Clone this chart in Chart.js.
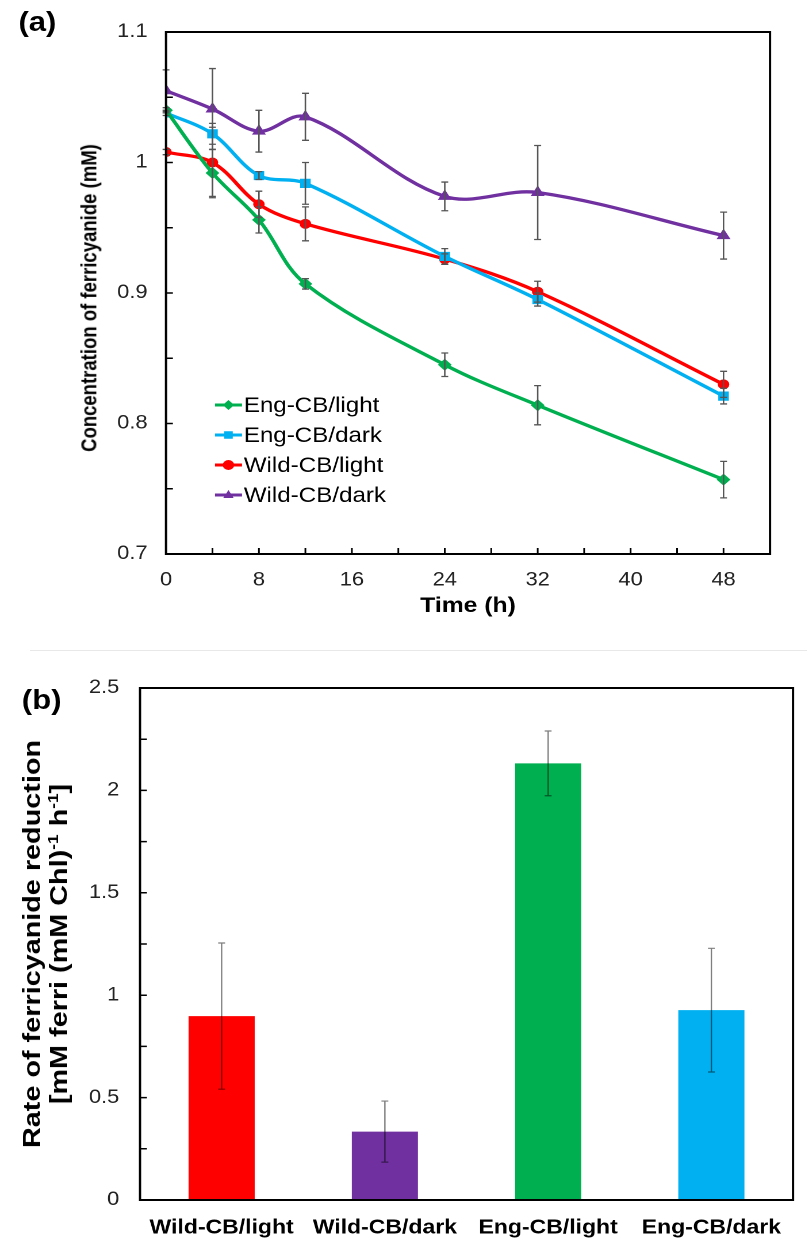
<!DOCTYPE html>
<html>
<head>
<meta charset="utf-8">
<script src="https://cdn.jsdelivr.net/npm/chart.js@4.4.1/dist/chart.umd.min.js"></script>
<style>
  html, body { margin: 0; padding: 0; background: #fff; }
  body { width: 807px; height: 1245px; position: relative; overflow: hidden; font-family: "Liberation Sans", Arial, sans-serif; }
  .panel { position: absolute; left: 0; transform-origin: 0 0; }
  .panel canvas { position: absolute; left: 0; top: 0; }
  .tag { position: absolute; font-weight: bold; font-size: 27px; line-height: 27px; color: #000; }
  .ytitle { position: absolute; font-weight: bold; color: #000; white-space: nowrap; text-align: center; }
  .ytitle sup { font-size: 0.6em; line-height: 0; vertical-align: 0.6em; }
  #rule { position: absolute; left: 30px; top: 650px; width: 777px; height: 1px; background: #e8e8e8; }
</style>
</head>
<body>
<div id="rule"></div>
<div class="panel" id="panelA" style="top:0">
  <canvas id="chartA"></canvas>
  <div class="tag" style="left:16px;top:9px">(a)</div>
</div>
<div class="panel" id="panelB" style="top:650px">
  <canvas id="chartB"></canvas>
  <div class="tag" style="left:19px;top:37px">(b)</div>
</div>
<div class="ytitle" style="left:89px;top:298px;font-size:19.5px;line-height:23px;transform:translate(-50%,-50%) rotate(-90deg) scale(0.95,1.1)">Concentration of ferricyanide (mM)</div>
<div class="ytitle" style="left:45px;top:944px;font-size:24px;line-height:27px;transform:translate(-50%,-50%) rotate(-90deg) scale(1.2,1)">Rate of ferricyanide reduction<br>[mM ferri (mM Chl)<sup>-1</sup> h<sup>-1</sup>]</div>
<script>
// time course, ferricyanide concentration (mM)
const hours = [0, 4, 8, 12, 24, 32, 48];
const engLight = [1.040, 0.992, 0.956, 0.907, 0.845, 0.814, 0.757];
const engLightErr = [0.002, 0.018, 0.010, 0.004, 0.009, 0.015, 0.014];
const engDark = [1.038, 1.022, 0.990, 0.984, 0.928, 0.895, 0.821];
const engDarkErr = [0.002, 0.008, 0.003, 0.016, 0.006, 0.005, 0.006];
const wildLight = [1.008, 1.000, 0.968, 0.953, 0.926, 0.901, 0.830];
const wildLightErr = [0.002, 0.027, 0.010, 0.013, 0.004, 0.008, 0.010];
const wildDark = [1.055, 1.041, 1.024, 1.035, 0.974, 0.977, 0.944];
const wildDarkErr = [0.016, 0.031, 0.016, 0.018, 0.011, 0.036, 0.018];

// reduction rates
const strains = ['Wild-CB/light', 'Wild-CB/dark', 'Eng-CB/light', 'Eng-CB/dark'];
const rates = [0.898, 0.334, 2.132, 0.927];
const rateErr = [0.357, 0.149, 0.158, 0.302];

// axis ranges
const concTicks = [0.7, 0.8, 0.9, 1.0, 1.1];
const hourLabels = [0, 8, 16, 24, 32, 40, 48];
const rateTicks = [0, 0.5, 1, 1.5, 2, 2.5];

const SX = 1.15;                 // figure is drawn a bit wide
const W = Math.round(807 / SX);
const FONT = '"Liberation Sans", Arial, sans-serif';
Chart.defaults.font.family = FONT;
Chart.defaults.color = '#222';

function setupPanel(panelId, canvasId, h) {
  const p = document.getElementById(panelId), c = document.getElementById(canvasId);
  p.style.width = W + 'px'; p.style.height = h + 'px';
  p.style.transform = `scaleX(${SX})`;
  c.width = W; c.height = h;
  c.style.width = W + 'px'; c.style.height = h + 'px';
  return c;
}

function between(lo, hi, step) {
  const out = [];
  for (let v = lo + step; v < hi - step / 2; v += step) out.push(+v.toFixed(3));
  return out;
}

// box around plot + small inward ticks
const frameTicks = {
  id: 'frameTicks',
  afterDraw(chart, args, opts) {
    const { ctx, chartArea: a } = chart;
    ctx.save();
    ctx.strokeStyle = '#000';
    ctx.lineWidth = 1.5;
    ctx.beginPath();
    (opts.y || []).forEach(v => {
      const y = chart.scales.y.getPixelForValue(v);
      ctx.moveTo(a.left, y); ctx.lineTo(a.left + 6, y);
    });
    (opts.x || []).forEach(v => {
      const x = chart.scales.x.getPixelForValue(v);
      ctx.moveTo(x, a.bottom); ctx.lineTo(x, a.bottom - 6);
    });
    ctx.stroke();
    ctx.lineWidth = 2;
    ctx.strokeRect(a.left, a.top, a.right - a.left, a.bottom - a.top);
    ctx.restore();
  }
};

// vertical error bars for every dataset
const errorBars = {
  id: 'errorBars',
  afterDatasetsDraw(chart, args, opts) {
    const { ctx } = chart, ys = chart.scales.y;
    ctx.save();
    ctx.strokeStyle = opts.color;
    ctx.lineWidth = opts.width;
    chart.data.datasets.forEach((ds, i) => {
      const meta = chart.getDatasetMeta(i);
      ds.errors.forEach((e, j) => {
        const el = meta.data[j];
        const v = typeof ds.data[j] === 'object' ? ds.data[j].y : ds.data[j];
        const x = el.x, y1 = ys.getPixelForValue(v + e), y2 = ys.getPixelForValue(v - e);
        ctx.beginPath();
        ctx.moveTo(x, y1); ctx.lineTo(x, y2);
        ctx.moveTo(x - opts.cap, y1); ctx.lineTo(x + opts.cap, y1);
        ctx.moveTo(x - opts.cap, y2); ctx.lineTo(x + opts.cap, y2);
        ctx.stroke();
      });
    });
    ctx.restore();
  }
};

function drawMarker(ctx, style, x, y, r) {
  ctx.beginPath();
  if (style === 'circle') ctx.arc(x, y, r, 0, Math.PI * 2);
  else if (style === 'rect') ctx.rect(x - r * 0.75, y - r * 0.75, r * 1.5, r * 1.5);
  else if (style === 'rectRot') { ctx.moveTo(x, y - r); ctx.lineTo(x + r, y); ctx.lineTo(x, y + r); ctx.lineTo(x - r, y); }
  else { ctx.moveTo(x, y - r); ctx.lineTo(x + r * 0.9, y + r * 0.6); ctx.lineTo(x - r * 0.9, y + r * 0.6); }
  ctx.closePath();
  ctx.fill();
}

// legend sitting inside the plot, lower left
const insideLegend = {
  id: 'insideLegend',
  afterDraw(chart) {
    const { ctx, chartArea: a } = chart;
    const x0 = a.left + 42.6, y0 = 405, gap = 30;
    ctx.save();
    ctx.font = '21px ' + FONT;
    ctx.textBaseline = 'middle';
    chart.data.datasets.forEach((ds, i) => {
      const y = y0 + i * gap;
      ctx.strokeStyle = ds.borderColor;
      ctx.fillStyle = ds.borderColor;
      ctx.lineWidth = 3;
      ctx.beginPath(); ctx.moveTo(x0, y); ctx.lineTo(x0 + 23.5, y); ctx.stroke();
      drawMarker(ctx, ds.pointStyle, x0 + 11.7, y, 5);
      ctx.fillStyle = '#000';
      ctx.fillText(ds.label, x0 + 25, y + 1);
    });
    ctx.restore();
  }
};

function fixWidth(w) { return s => { s.width = w; }; }
function fixHeight(h) { return s => { s.height = h; }; }

// ---- (a) time course ----
const canvasA = setupPanel('panelA', 'chartA', 650);
const lineSeries = [
  { label: 'Eng-CB/light', values: engLight, err: engLightErr, color: '#00B050', style: 'rectRot', r: 6 },
  { label: 'Eng-CB/dark', values: engDark, err: engDarkErr, color: '#00B0F0', style: 'rect', r: 6.5 },
  { label: 'Wild-CB/light', values: wildLight, err: wildLightErr, color: '#FF0000', style: 'circle', r: 5 },
  { label: 'Wild-CB/dark', values: wildDark, err: wildDarkErr, color: '#7030A0', style: 'triangle', r: 7 }
];

new Chart(canvasA, {
  type: 'line',
  data: {
    datasets: lineSeries.map(s => ({
      label: s.label,
      data: hours.map((h, i) => ({ x: h, y: s.values[i] })),
      errors: s.err,
      borderColor: s.color,
      backgroundColor: s.color,
      pointBackgroundColor: s.color,
      pointBorderColor: s.color,
      pointBorderWidth: 0,
      pointStyle: s.style,
      pointRadius: s.r,
      borderWidth: 3.3,
      tension: 0.35,
      fill: false
    }))
  },
  options: {
    responsive: false,
    devicePixelRatio: 2,
    animation: false,
    layout: { padding: { left: 0, right: W - 770 / SX, top: 32, bottom: 0 } },
    plugins: {
      legend: { display: false },
      tooltip: { enabled: false },
      frameTicks: { y: between(0.7, 1.1, 0.05), x: between(0, 52, 4).filter(v => v <= 48) },
      errorBars: { color: '#555', width: 1.3, cap: 3 }
    },
    scales: {
      x: {
        type: 'linear', min: 0, max: 52,
        grid: { display: false, drawTicks: false },
        border: { display: false },
        afterFit: fixHeight(650 - 554),
        ticks: {
          stepSize: 4, autoSkip: false, maxRotation: 0, padding: 15,
          font: { size: 19 },
          callback: v => hourLabels.includes(v) ? String(v) : ''
        },
        title: { display: true, text: 'Time (h)', color: '#000', font: { size: 21.5, weight: 'bold' }, padding: { top: 0, bottom: 31 } }
      },
      y: {
        min: concTicks[0], max: concTicks[concTicks.length - 1],
        grid: { display: false, drawTicks: false },
        border: { display: false },
        afterFit: fixWidth(166 / SX),
        afterBuildTicks: s => { s.ticks = concTicks.map(v => ({ value: v })); },
        ticks: { padding: 16, font: { size: 19 }, callback: v => String(+v.toFixed(2)) }
      }
    }
  },
  plugins: [frameTicks, errorBars, insideLegend]
});

// ---- (b) reduction rate ----
const canvasB = setupPanel('panelB', 'chartB', 595);
new Chart(canvasB, {
  type: 'bar',
  data: {
    labels: strains,
    datasets: [{
      data: rates,
      errors: rateErr,
      backgroundColor: ['#FF0000', '#7030A0', '#00B050', '#00B0F0'],
      borderWidth: 0,
      categoryPercentage: 1,
      barPercentage: 0.405
    }]
  },
  options: {
    responsive: false,
    devicePixelRatio: 2,
    animation: false,
    layout: { padding: { left: 0, right: W - 793 / SX, top: 38, bottom: 0 } },
    plugins: {
      legend: { display: false },
      tooltip: { enabled: false },
      frameTicks: { y: between(0, 2.5, 0.25) },
      errorBars: { color: 'rgba(0,0,0,0.5)', width: 1.2, cap: 3 }
    },
    scales: {
      x: {
        grid: { display: false, drawTicks: false },
        border: { display: false },
        afterFit: fixHeight(595 - 550),
        ticks: { padding: 16, color: '#000', font: { size: 20, weight: 'bold' }, maxRotation: 0, autoSkip: false }
      },
      y: {
        min: rateTicks[0], max: rateTicks[rateTicks.length - 1],
        grid: { display: false, drawTicks: false },
        border: { display: false },
        afterFit: fixWidth(140 / SX),
        afterBuildTicks: s => { s.ticks = rateTicks.map(v => ({ value: v })); },
        ticks: { padding: 18, font: { size: 19 }, callback: v => String(v) }
      }
    }
  },
  plugins: [frameTicks, errorBars]
});
</script>
</body>
</html>
